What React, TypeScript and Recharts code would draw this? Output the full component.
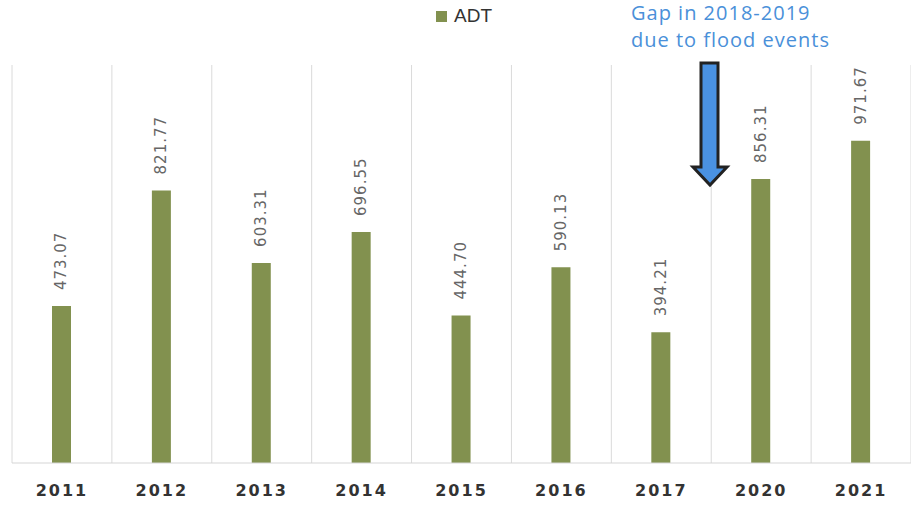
import React from "react";
import { BarChart, Bar, XAxis, YAxis, CartesianGrid, Legend, LabelList, Customized } from "recharts";

const years = ["2011", "2012", "2013", "2014", "2015", "2016", "2017", "2020", "2021"];
const adt = [473.07, 821.77, 603.31, 696.55, 444.7, 590.13, 394.21, 856.31, 971.67];
const yDomain = [0, 1200];
const seriesName = "ADT";
const noteLines = ["Gap in 2018-2019", "due to flood events"];

const data = years.map((y, i) => ({ year: y, ADT: adt[i] }));

const BAR_COLOR = "#82914f";
const NOTE_COLOR = "#4a90d9";

const ValueLabel = (props: any) => {
  const { x, y, width, value } = props;
  const cx = x + width / 2;
  const ty = y - 16;
  return (
    <text
      x={cx}
      y={ty}
      transform={`rotate(-90, ${cx}, ${ty})`}
      textAnchor="start"
      dominantBaseline="central"
      fill="#666"
      fontSize={15}
      letterSpacing={1}
      fontFamily="DejaVu Sans"
    >
      {Number(value).toFixed(2)}
    </text>
  );
};

const LegendContent = () => (
  <div style={{ height: 65, position: "relative" }}>
    <div
      style={{
        position: "absolute",
        left: 424,
        top: 5,
        display: "flex",
        alignItems: "center",
        fontFamily: "Liberation Sans, Arial, sans-serif",
        fontSize: 19,
        color: "#333",
      }}
    >
      <span style={{ display: "inline-block", width: 11, height: 11, background: BAR_COLOR, marginRight: 7 }} />
      <span>{seriesName}</span>
    </div>
  </div>
);

const Annotation = () => (
  <g>
    <text x={631} fill={NOTE_COLOR} fontSize={20} letterSpacing={1} fontFamily="Open Sans">
      <tspan x={631} y={20}>{noteLines[0]}</tspan>
      <tspan x={631} y={47}>{noteLines[1]}</tspan>
    </text>
    <polygon
      points="701,63 718,63 718,167 727,167 710,185 693,167 701,167"
      fill="#4a92e2"
      stroke="#222"
      strokeWidth={3}
      strokeLinejoin="miter"
    />
  </g>
);

export default function App() {
  return (
    <div style={{ position: "absolute", left: 0, top: 0, width: 911, height: 506, background: "#fff" }}>
      <BarChart
        width={911}
        height={506}
        data={data}
        margin={{ top: 0, right: 0, left: 12, bottom: 13 }}
        barCategoryGap={0}
      >
        <Legend verticalAlign="top" align="left" content={<LegendContent />} />
        <CartesianGrid
          horizontal={false}
          stroke="#dadada"
          verticalCoordinatesGenerator={({ offset }: any) =>
            years.map((_, i) => offset.left + (i * offset.width) / years.length).concat([offset.left + offset.width])
          }
        />
        <XAxis
          dataKey="year"
          tickLine={false}
          axisLine={{ stroke: "#d5d5d5" }}
          tickMargin={16}
          tick={{ fill: "#333", fontSize: 16, fontWeight: "bold", fontFamily: "DejaVu Sans", letterSpacing: 2 } as any}
          interval={0}
        />
        <YAxis hide domain={yDomain} />
        <Bar dataKey="ADT" name={seriesName} fill={BAR_COLOR} barSize={19} isAnimationActive={false}>
          <LabelList dataKey="ADT" content={<ValueLabel />} />
        </Bar>
        <Customized component={<Annotation />} />
      </BarChart>
    </div>
  );
}
